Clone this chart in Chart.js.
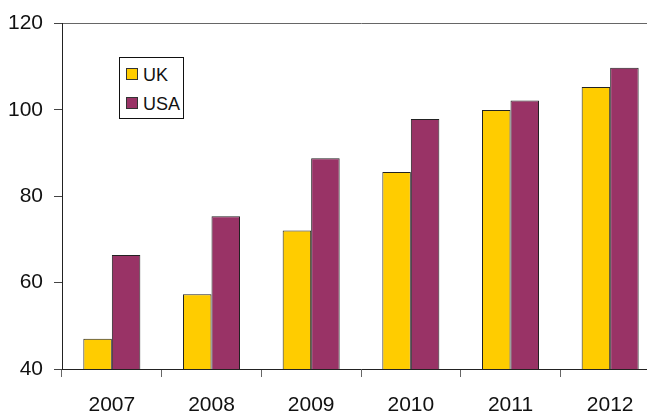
<!DOCTYPE html>
<html>
<head>
<meta charset="utf-8">
<script src="https://cdn.jsdelivr.net/npm/chart.js@4"></script>
<style>
html,body{margin:0;padding:0;overflow:hidden;background:#fff;}
#wrap{position:relative;width:660px;height:416px;}
#legend{position:absolute;left:119px;top:57px;width:63px;height:60px;border:1px solid #111;background:#fff;
font-family:"Liberation Sans",Arial,sans-serif;font-size:18px;color:#111;}
.item{position:absolute;left:6px;height:20px;line-height:20px;}
.sw{display:inline-block;width:10px;height:10px;border:1px solid #333;vertical-align:middle;margin-right:5px;position:relative;top:-2px;}
</style>
</head>
<body>
<div id="wrap">
<canvas id="chart" width="660" height="416"></canvas>
<div id="legend"></div>
</div>
<script>
const years = ["2007","2008","2009","2010","2011","2012"];
const ukValues = [47.0, 57.3, 72.1, 85.6, 100.0, 105.3];
const usaValues = [66.4, 75.4, 88.8, 97.9, 102.2, 109.8];
const seriesNames = ["UK","USA"];
const seriesColors = ["#FFCC00","#993366"];

const font = {family:"'Liberation Sans', Arial, sans-serif", size:21};

new Chart(document.getElementById("chart"),{
type:"bar",
data:{
labels:years,
datasets:[{
label:seriesNames[0],
data:ukValues,
backgroundColor:seriesColors[0],
borderColor:"#222",
borderWidth:1
},{
label:seriesNames[1],
data:usaValues,
backgroundColor:seriesColors[1],
borderColor:"#222",
borderWidth:1
}]
},
options:{
responsive:false,
animation:false,
layout:{padding:{top:22,right:0,left:0,bottom:0}},
categoryPercentage:0.572,
barPercentage:1,
plugins:{legend:{display:false},tooltip:{enabled:false}},
scales:{
x:{
grid:{offset:true,drawOnChartArea:false,tickLength:8,color:"#666",tickColor:"#666"},
border:{color:"#222"},
ticks:{font:font,color:"#111",padding:16,maxRotation:0,autoSkip:false},
afterFit:function(s){s.height=47;}
},
y:{
min:40,max:120,
grid:{tickLength:8,color:function(c){return c.tick && c.tick.value===120 ? "#666" : "rgba(0,0,0,0)";},tickColor:"#444"},
border:{color:"#222"},
ticks:{stepSize:20,font:font,color:"#111",padding:11},
afterFit:function(s){s.width=62;}
}
}
}
});

const legend = document.getElementById("legend");
seriesNames.forEach(function(name,i){
const d = document.createElement("div");
d.className = "item";
d.style.top = (i===0 ? 7 : 36) + "px";
d.innerHTML = '<span class="sw" style="background:'+seriesColors[i]+'"></span>'+name;
legend.appendChild(d);
});
</script>
</body>
</html>
